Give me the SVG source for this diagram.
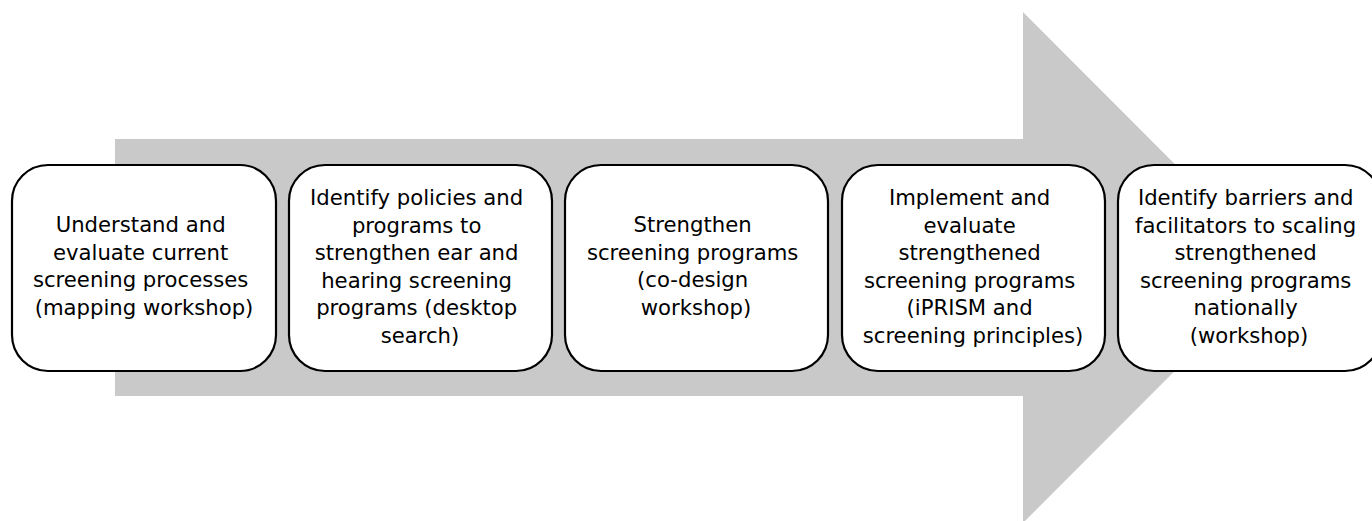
<svg xmlns="http://www.w3.org/2000/svg" width="1372" height="521" viewBox="0 0 1372 521">
  <style>
    .step rect { fill: #ffffff; stroke: #000000; stroke-width: 2.2; }
    .step text { font-family: "DejaVu Sans", "Open Sans", "Liberation Sans", sans-serif; font-size: 21.2px; fill: #000000; text-anchor: middle; }
  </style>
  <rect width="1372" height="521" fill="#ffffff"/>
  <!-- background process arrow -->
  <g id="connectors">
    <polygon points="115,139 1023,139 1023,12 1278,267.5 1023,523 1023,396 115,396" fill="#c9c9c9"/>
  </g>
  <g id="step1" class="step">
    <rect x="12" y="165" width="264" height="206" rx="36" ry="36"/>
    <text x="144" y="232">
      <tspan x="144">Understand and</tspan>
      <tspan x="144" dy="27.6">evaluate current</tspan>
      <tspan x="144" dy="27.6">screening processes</tspan>
      <tspan x="144" dy="27.6">(mapping workshop)</tspan>
    </text>
  </g>
  <g id="step2" class="step">
    <rect x="289" y="165" width="263" height="206" rx="36" ry="36"/>
    <text x="420" y="205">
      <tspan x="420">Identify policies and</tspan>
      <tspan x="420" dy="27.6">programs to</tspan>
      <tspan x="420" dy="27.6">strengthen ear and</tspan>
      <tspan x="420" dy="27.6">hearing screening</tspan>
      <tspan x="420" dy="27.6">programs (desktop</tspan>
      <tspan x="420" dy="27.6">search)</tspan>
    </text>
  </g>
  <g id="step3" class="step">
    <rect x="565" y="165" width="263" height="206" rx="36" ry="36"/>
    <text x="696" y="232">
      <tspan x="696">Strengthen</tspan>
      <tspan x="696" dy="27.6">screening programs</tspan>
      <tspan x="696" dy="27.6">(co-design</tspan>
      <tspan x="696" dy="27.6">workshop)</tspan>
    </text>
  </g>
  <g id="step4" class="step">
    <rect x="842" y="165" width="263" height="206" rx="36" ry="36"/>
    <text x="973" y="205">
      <tspan x="973">Implement and</tspan>
      <tspan x="973" dy="27.6">evaluate</tspan>
      <tspan x="973" dy="27.6">strengthened</tspan>
      <tspan x="973" dy="27.6">screening programs</tspan>
      <tspan x="973" dy="27.6">(iPRISM and</tspan>
      <tspan x="973" dy="27.6">screening principles)</tspan>
    </text>
  </g>
  <g id="step5" class="step">
    <rect x="1118" y="165" width="263" height="206" rx="36" ry="36"/>
    <text x="1249" y="205">
      <tspan x="1249">Identify barriers and</tspan>
      <tspan x="1249" dy="27.6">facilitators to scaling</tspan>
      <tspan x="1249" dy="27.6">strengthened</tspan>
      <tspan x="1249" dy="27.6">screening programs</tspan>
      <tspan x="1249" dy="27.6">nationally</tspan>
      <tspan x="1249" dy="27.6">(workshop)</tspan>
    </text>
  </g>
</svg>
